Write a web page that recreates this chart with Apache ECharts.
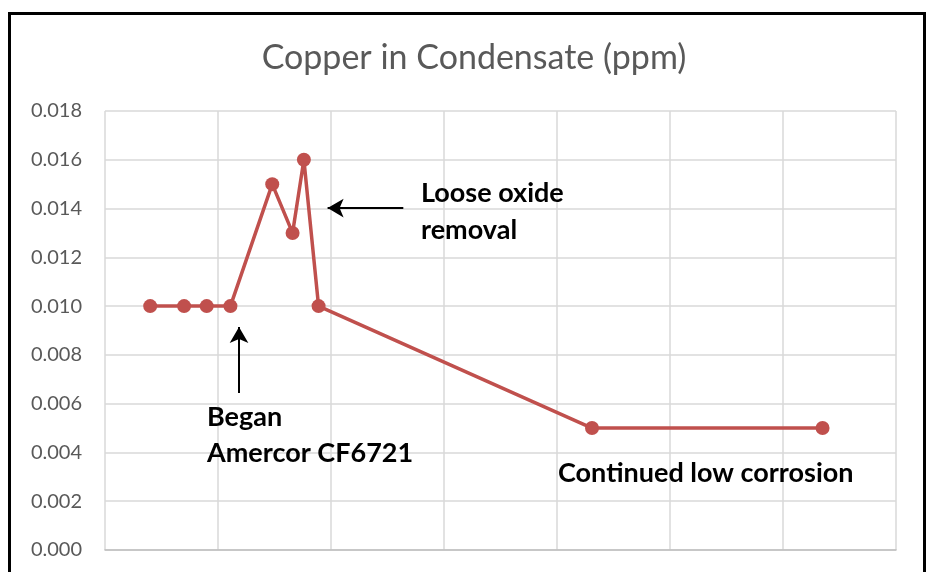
<!DOCTYPE html>
<html>
<head>
<meta charset="utf-8">
<script src="https://cdn.jsdelivr.net/npm/echarts@6/dist/echarts.min.js"></script>
<style>
  html, body { margin: 0; padding: 0; background: #fff; }
  #chart { width: 931px; height: 572px; }
</style>
</head>
<body>
<div id="chart"></div>
<script>
// sample positions along the x axis (one unit = one grid column)
var xPos = [0.40, 0.70, 0.90, 1.11, 1.48, 1.66, 1.76, 1.89, 4.31, 6.35];
// copper, ppm
var copper = [0.010, 0.010, 0.010, 0.010, 0.015, 0.013, 0.016, 0.010, 0.005, 0.005];
var yTicks = [0, 0.002, 0.004, 0.006, 0.008, 0.010, 0.012, 0.014, 0.016, 0.018];

var chart = echarts.init(document.getElementById('chart'));

var points = [];
for (var i = 0; i < xPos.length; i++) {
	points.push([xPos[i], copper[i]]);
}

var noteFont = 'bold 27px Lato, "Open Sans", sans-serif';

var option = {
	animation: false,
	backgroundColor: '#fff',
	title: {
		text: 'Copper in Condensate (ppm)',
		left: 469,
		top: 36,
		textAlign: 'center',
		textStyle: {
			color: '#595959',
			fontSize: 34,
			fontWeight: 'normal',
			fontFamily: 'Lato, "Open Sans", sans-serif'
		}
	},
	grid: { left: 105, right: 35, top: 111, bottom: 22 },
	xAxis: {
		type: 'value',
		min: 0,
		max: 7,
		interval: 1,
		axisLabel: { show: false },
		axisTick: { show: false },
		axisLine: { show: true, lineStyle: { color: '#bfbfbf', width: 1.5 } },
		splitLine: { show: true, lineStyle: { color: '#d9d9d9', width: 1.5 } }
	},
	yAxis: {
		type: 'value',
		min: yTicks[0],
		max: yTicks[yTicks.length - 1],
		interval: 0.002,
		axisLine: { show: false },
		axisTick: { show: false },
		axisLabel: {
			color: '#595959',
			fontSize: 20,
			margin: 23,
			fontFamily: 'Lato, "Open Sans", sans-serif',
			formatter: function (v) { return v.toFixed(3); }
		},
		splitLine: { lineStyle: { color: '#d9d9d9', width: 1.5 } }
	},
	series: [
		{
			type: 'line',
			data: points,
			symbol: 'circle',
			symbolSize: 14,
			lineStyle: { color: '#C0504D', width: 3.5 },
			itemStyle: { color: '#C0504D' },
			markLine: {
				silent: true,
				symbol: ['none', 'arrow'],
				symbolSize: [14, 16],
				label: { show: false },
				lineStyle: { color: '#000', width: 2, type: 'solid' },
				data: [
					[{ coord: [2.64, 0.01402] }, { coord: [1.97, 0.01402] }],
					[{ coord: [1.186, 0.00644] }, { coord: [1.186, 0.00914] }]
				]
			}
		}
	],
	graphic: [
		{
			type: 'rect',
			shape: { x: 9.5, y: 13.5, width: 915, height: 600 },
			style: { fill: 'none', stroke: '#000', lineWidth: 3 },
			z: 100
		},
		{
			type: 'text', left: 421, top: 180, z: 100,
			style: { text: 'Loose oxide', font: noteFont, fill: '#000' }
		},
		{
			type: 'text', left: 421, top: 217, z: 100,
			style: { text: 'removal', font: noteFont, fill: '#000' }
		},
		{
			type: 'text', left: 207, top: 404, z: 100,
			style: { text: 'Began', font: noteFont, fill: '#000' }
		},
		{
			type: 'text', left: 207, top: 440, z: 100,
			style: { text: 'Amercor CF6721', font: noteFont, fill: '#000' }
		},
		{
			type: 'text', left: 558, top: 460, z: 100,
			style: { text: 'Continued low corrosion', font: noteFont, fill: '#000' }
		}
	]
};

chart.setOption(option);
window.onresize = chart.resize;
</script>
</body>
</html>
